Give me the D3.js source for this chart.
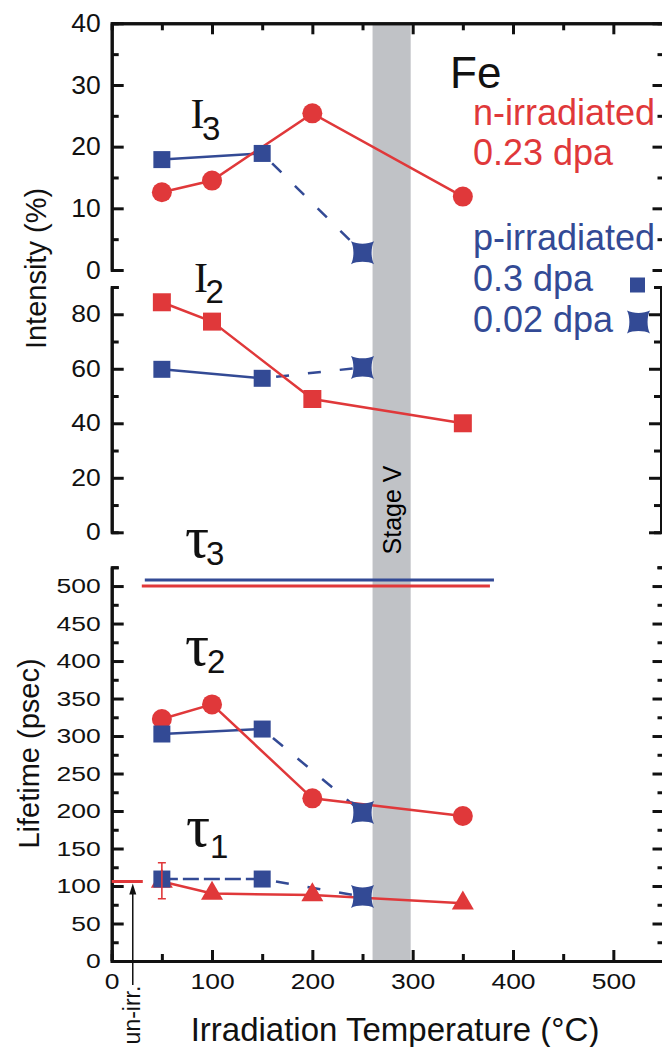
<!DOCTYPE html>
<html>
<head>
<meta charset="utf-8">
<script src="https://cdn.jsdelivr.net/npm/d3@7"></script>
<style>
  body { margin: 0; background: #fff; }
  svg { display: block; }
  text { font-family: "Liberation Sans", Arial, sans-serif; }
</style>
</head>
<body>
<svg id="chart" width="662" height="1047"></svg>
<script>
// irradiation temperatures (°C)
const nTemps = [50, 100, 200, 350];      // n-irradiated 0.23 dpa
const pTemps = [50, 150];                // p-irradiated 0.3 dpa
const lowTemp = 250;                     // p-irradiated 0.02 dpa

// n-irradiated (red)
const nI3 = [12.6, 14.5, 25.4, 11.9];
const nI2 = [84.4, 77.3, 48.9, 40.0];
const nTau2 = [322.7, 342.2, 216.9, 193.3];
const nTau1 = [106, 90, 88, 77];
const nTau1ErrLow = 83, nTau1ErrHigh = 131;   // error bar at 50 °C
const nTau3 = 500, nTau3Span = [30, 377];

// p-irradiated 0.3 dpa (blue squares)
const pI3 = [17.9, 18.9];
const pI2 = [59.8, 56.5];
const pTau2 = [302.7, 309.3];
const pTau1 = [109.3, 109.3];
const pTau3 = 508, pTau3Span = [33, 381];

// p-irradiated 0.02 dpa (blue concave squares)
const lowI3 = 2.8;
const lowI2 = 60.5;
const lowTau2 = 198;
const lowTau1 = 86;

// un-irradiated tau1 and stage V band
const unirrTau1 = 106, unirrSpan = [0, 31], unirrArrowAt = 21;
const stageV = [260, 298];

// ticks
const xMajor = [0, 100, 200, 300, 400, 500];
const xMinor = [50, 150, 250, 350, 450, 550];
const i3Major = [0, 10, 20, 30, 40];
const i3Minor = [5, 15, 25, 35];
const i2Major = [0, 20, 40, 60, 80];
const i2Minor = [10, 30, 50, 70, 90];
const lifeMajor = [0, 50, 100, 150, 200, 250, 300, 350, 400, 450, 500];
const lifeMinor = [25, 75, 125, 175, 225, 275, 325, 375, 425, 475, 525];

const red = "#e0383a";
const blue = "#334a95";

const svg = d3.select("#chart");

const x = d3.scaleLinear().domain([0, 550]).range([111.7, 663.5]);
const yI3 = d3.scaleLinear().domain([0, 40]).range([270, 23.3]);
const yI2 = d3.scaleLinear().domain([0, 90]).range([532.3, 287]);
const yLife = d3.scaleLinear().domain([0, 525]).range([961, 567.3]);

// stage V band (behind everything)
svg.append("rect")
  .attr("x", x(stageV[0]))
  .attr("width", x(stageV[1]) - x(stageV[0]))
  .attr("y", yI3(40))
  .attr("height", yLife(0) - yI3(40))
  .attr("fill", "#c0c2c6");

svg.append("text")
  .attr("transform", `translate(${x(stageV[1]) - 10},510) rotate(-90)`)
  .attr("text-anchor", "middle")
  .style("font-size", "25px")
  .text("Stage V");

// squash tick labels vertically like the original
function squash(g, sy) {
  g.selectAll(".tick text").each(function () {
    const t = d3.select(this);
    const tx = +t.attr("x") || 0, ty = +t.attr("y") || 0;
    t.attr("x", 0).attr("y", 0)
      .attr("transform", `translate(${tx},${ty}) scale(1,${sy})`);
  });
}

function styleAxis(g) {
  g.selectAll("path, line").attr("stroke", "#111").attr("stroke-width", 3);
  g.selectAll("text").attr("fill", "#111").style("font-size", "26.5px")
    .style("font-family", "'Liberation Sans', Arial, sans-serif");
}

function yAxes(scale, major, minor, rightX, sy) {
  const gl1 = svg.append("g").attr("transform", `translate(${x(0)},0)`)
    .call(d3.axisLeft(scale).tickValues(minor).tickSize(-7).tickFormat(""));
  const gl2 = svg.append("g").attr("transform", `translate(${x(0)},0)`)
    .call(d3.axisLeft(scale).tickValues(major).tickSizeInner(-12).tickSizeOuter(0).tickPadding(11));
  const gr1 = svg.append("g").attr("transform", `translate(${rightX},0)`)
    .call(d3.axisRight(scale).tickValues(minor).tickSize(-7).tickFormat(""));
  const gr2 = svg.append("g").attr("transform", `translate(${rightX},0)`)
    .call(d3.axisRight(scale).tickValues(major).tickSizeInner(-12).tickSizeOuter(0).tickFormat(""));
  [gl1, gl2, gr1, gr2].forEach(styleAxis);
  squash(gl2, sy);
}

yAxes(yI3, i3Major, i3Minor, 664.5, 0.97);
yAxes(yI2, i2Major, i2Minor, 661, 0.88);
yAxes(yLife, lifeMajor, lifeMinor, 664.5, 0.78);

// x axes
const gb1 = svg.append("g").attr("transform", `translate(0,${yLife(0)})`)
  .call(d3.axisBottom(x).tickValues(xMinor).tickSize(-7).tickFormat(""));
const gb2 = svg.append("g").attr("transform", `translate(0,${yLife(0)})`)
  .call(d3.axisBottom(x).tickValues(xMajor).tickSizeInner(-11).tickSizeOuter(0).tickPadding(12));
const gt1 = svg.append("g").attr("transform", `translate(0,${yI3(40)})`)
  .call(d3.axisTop(x).tickValues(xMinor).tickSize(-7).tickFormat(""));
const gt2 = svg.append("g").attr("transform", `translate(0,${yI3(40)})`)
  .call(d3.axisTop(x).tickValues(xMajor.slice(1)).tickSizeInner(-11).tickSizeOuter(0).tickFormat(""));
[gb1, gb2, gt1, gt2].forEach(styleAxis);
squash(gb2, 0.86);

// axis titles
svg.append("text")
  .attr("x", 395).attr("y", 1041)
  .attr("text-anchor", "middle")
  .style("font-size", "33px").attr("fill", "#111")
  .text("Irradiation Temperature (°C)");
svg.append("text")
  .attr("transform", "translate(46,268.5) rotate(-90)")
  .attr("text-anchor", "middle")
  .style("font-size", "29px").attr("fill", "#111")
  .text("Intensity (%)");
svg.append("text")
  .attr("transform", "translate(39,753.5) rotate(-90)")
  .attr("text-anchor", "middle")
  .style("font-size", "29px").attr("fill", "#111")
  .text("Lifetime (psec)");

// marker shapes
const shapes = {
  circle: d3.symbol().type(d3.symbolCircle).size(Math.PI * 100)(),
  square: d3.symbol().type(d3.symbolSquare).size(17 * 17)(),
  redSquare: d3.symbol().type(d3.symbolSquare).size(18 * 18)(),
  triangle: d3.symbol().type(d3.symbolTriangle).size(Math.sqrt(3) / 4 * 22 * 22)()
};
// square with concave sides and pointed corners
function concaveSquare(s) {
  const h = s / 2, m = h * 0.72, a = h * 0.45;
  return `M${-h},${-h}C${-a},${-m} ${a},${-m} ${h},${-h}` +
    `C${m},${-a} ${m},${a} ${h},${h}` +
    `C${a},${m} ${-a},${m} ${-h},${h}` +
    `C${-m},${a} ${-m},${-a} ${-h},${-h}Z`;
}
shapes.concave = concaveSquare(23);

const line = d3.line();

const series = [
  { y: yI3, n: nI3, nShape: "circle", p: pI3, low: lowI3, pDash: null },
  { y: yI2, n: nI2, nShape: "redSquare", p: pI2, low: lowI2, pDash: null },
  { y: yLife, n: nTau2, nShape: "circle", p: pTau2, low: lowTau2, pDash: null },
  { y: yLife, n: nTau1, nShape: "triangle", p: pTau1, low: lowTau1, pDash: "16,5" }
];

series.forEach(s => {
  const pPts = pTemps.map((t, i) => [x(t), s.y(s.p[i])]);
  const nPts = nTemps.map((t, i) => [x(t), s.y(s.n[i])]);
  const lowPt = [x(lowTemp), s.y(s.low)];

  // blue lines
  svg.append("path").attr("d", line(pPts))
    .attr("fill", "none").attr("stroke", blue).attr("stroke-width", 2.5)
    .attr("stroke-dasharray", s.pDash);
  svg.append("path").attr("d", line([pPts[pPts.length - 1], lowPt]))
    .attr("fill", "none").attr("stroke", blue).attr("stroke-width", 2.5)
    .attr("stroke-dasharray", "13,19").attr("stroke-dashoffset", -14);

  // red line + markers
  svg.append("path").attr("d", line(nPts))
    .attr("fill", "none").attr("stroke", red).attr("stroke-width", 2.5);
  svg.selectAll(null).data(nPts).enter().append("path")
    .attr("transform", d => `translate(${d[0]},${d[1]})`)
    .attr("d", shapes[s.nShape]).attr("fill", red);

  // blue markers
  svg.selectAll(null).data(pPts).enter().append("path")
    .attr("transform", d => `translate(${d[0]},${d[1]})`)
    .attr("d", shapes.square).attr("fill", blue);
  svg.append("path")
    .attr("transform", `translate(${lowPt[0]},${lowPt[1]})`)
    .attr("d", shapes.concave).attr("fill", blue);
});

// error bar on tau1 (n-irradiated, 50 °C)
const ex = x(nTemps[0]);
svg.append("path")
  .attr("d", `M${ex - 4},${yLife(nTau1ErrHigh)}H${ex + 4}M${ex},${yLife(nTau1ErrHigh)}V${yLife(nTau1ErrLow)}M${ex - 4},${yLife(nTau1ErrLow)}H${ex + 4}`)
  .attr("fill", "none").attr("stroke", red).attr("stroke-width", 1.6);

// tau3 constant lines
svg.append("line")
  .attr("x1", x(pTau3Span[0])).attr("x2", x(pTau3Span[1]))
  .attr("y1", yLife(pTau3)).attr("y2", yLife(pTau3))
  .attr("stroke", blue).attr("stroke-width", 3);
svg.append("line")
  .attr("x1", x(nTau3Span[0])).attr("x2", x(nTau3Span[1]))
  .attr("y1", yLife(nTau3)).attr("y2", yLife(nTau3))
  .attr("stroke", red).attr("stroke-width", 3);

// un-irradiated reference
svg.append("line")
  .attr("x1", x(unirrSpan[0])).attr("x2", x(unirrSpan[1]))
  .attr("y1", yLife(unirrTau1)).attr("y2", yLife(unirrTau1))
  .attr("stroke", red).attr("stroke-width", 3);
const ax = x(unirrArrowAt), tip = yLife(unirrTau1) + 2;
svg.append("line")
  .attr("x1", ax).attr("x2", ax).attr("y1", tip + 8).attr("y2", 985)
  .attr("stroke", "#111").attr("stroke-width", 1.5);
svg.append("path")
  .attr("d", `M${ax},${tip}L${ax - 3.5},${tip + 11}L${ax + 3.5},${tip + 11}Z`)
  .attr("fill", "#111");
svg.append("text")
  .attr("transform", `translate(${ax + 7.5},1015) rotate(-90)`)
  .attr("text-anchor", "middle")
  .style("font-size", "23px").attr("fill", "#111")
  .text("un-irr.");

// curve labels
function subLabel(main, sub, mx, my, sx, sy, serifSize) {
  const t = svg.append("text").attr("fill", "#111");
  t.append("tspan").attr("x", mx).attr("y", my)
    .style("font-family", "'Liberation Serif', 'Times New Roman', serif")
    .style("font-size", serifSize + "px").text(main);
  t.append("tspan").attr("x", sx).attr("y", sy)
    .style("font-size", "33px").text(sub);
}
subLabel("I", "3", 190.5, 128, 202, 140, 42);
subLabel("I", "2", 194, 291.7, 205.5, 303, 42);
subLabel("τ", "3", 185, 557, 206, 565, 60);
subLabel("τ", "2", 185, 665, 207, 673, 60);
subLabel("τ", "1", 186, 846, 210, 858, 60);

// legend
svg.append("text").attr("x", 450).attr("y", 88)
  .style("font-size", "44px").attr("fill", "#111").text("Fe");
const legend = [
  { text: "n-irradiated", y: 125, color: red },
  { text: "0.23 dpa", y: 165, color: red },
  { text: "p-irradiated", y: 250, color: blue },
  { text: "0.3 dpa", y: 291, color: blue },
  { text: "0.02 dpa", y: 332, color: blue }
];
svg.selectAll(null).data(legend).enter().append("text")
  .attr("x", 473).attr("y", d => d.y)
  .style("font-size", "36px").attr("fill", d => d.color)
  .text(d => d.text);
svg.append("path").attr("transform", "translate(637.5,285)")
  .attr("d", d3.symbol().type(d3.symbolSquare).size(15 * 15)()).attr("fill", blue);
svg.append("path").attr("transform", "translate(638.5,322)")
  .attr("d", shapes.concave).attr("fill", blue);
</script>
</body>
</html>
